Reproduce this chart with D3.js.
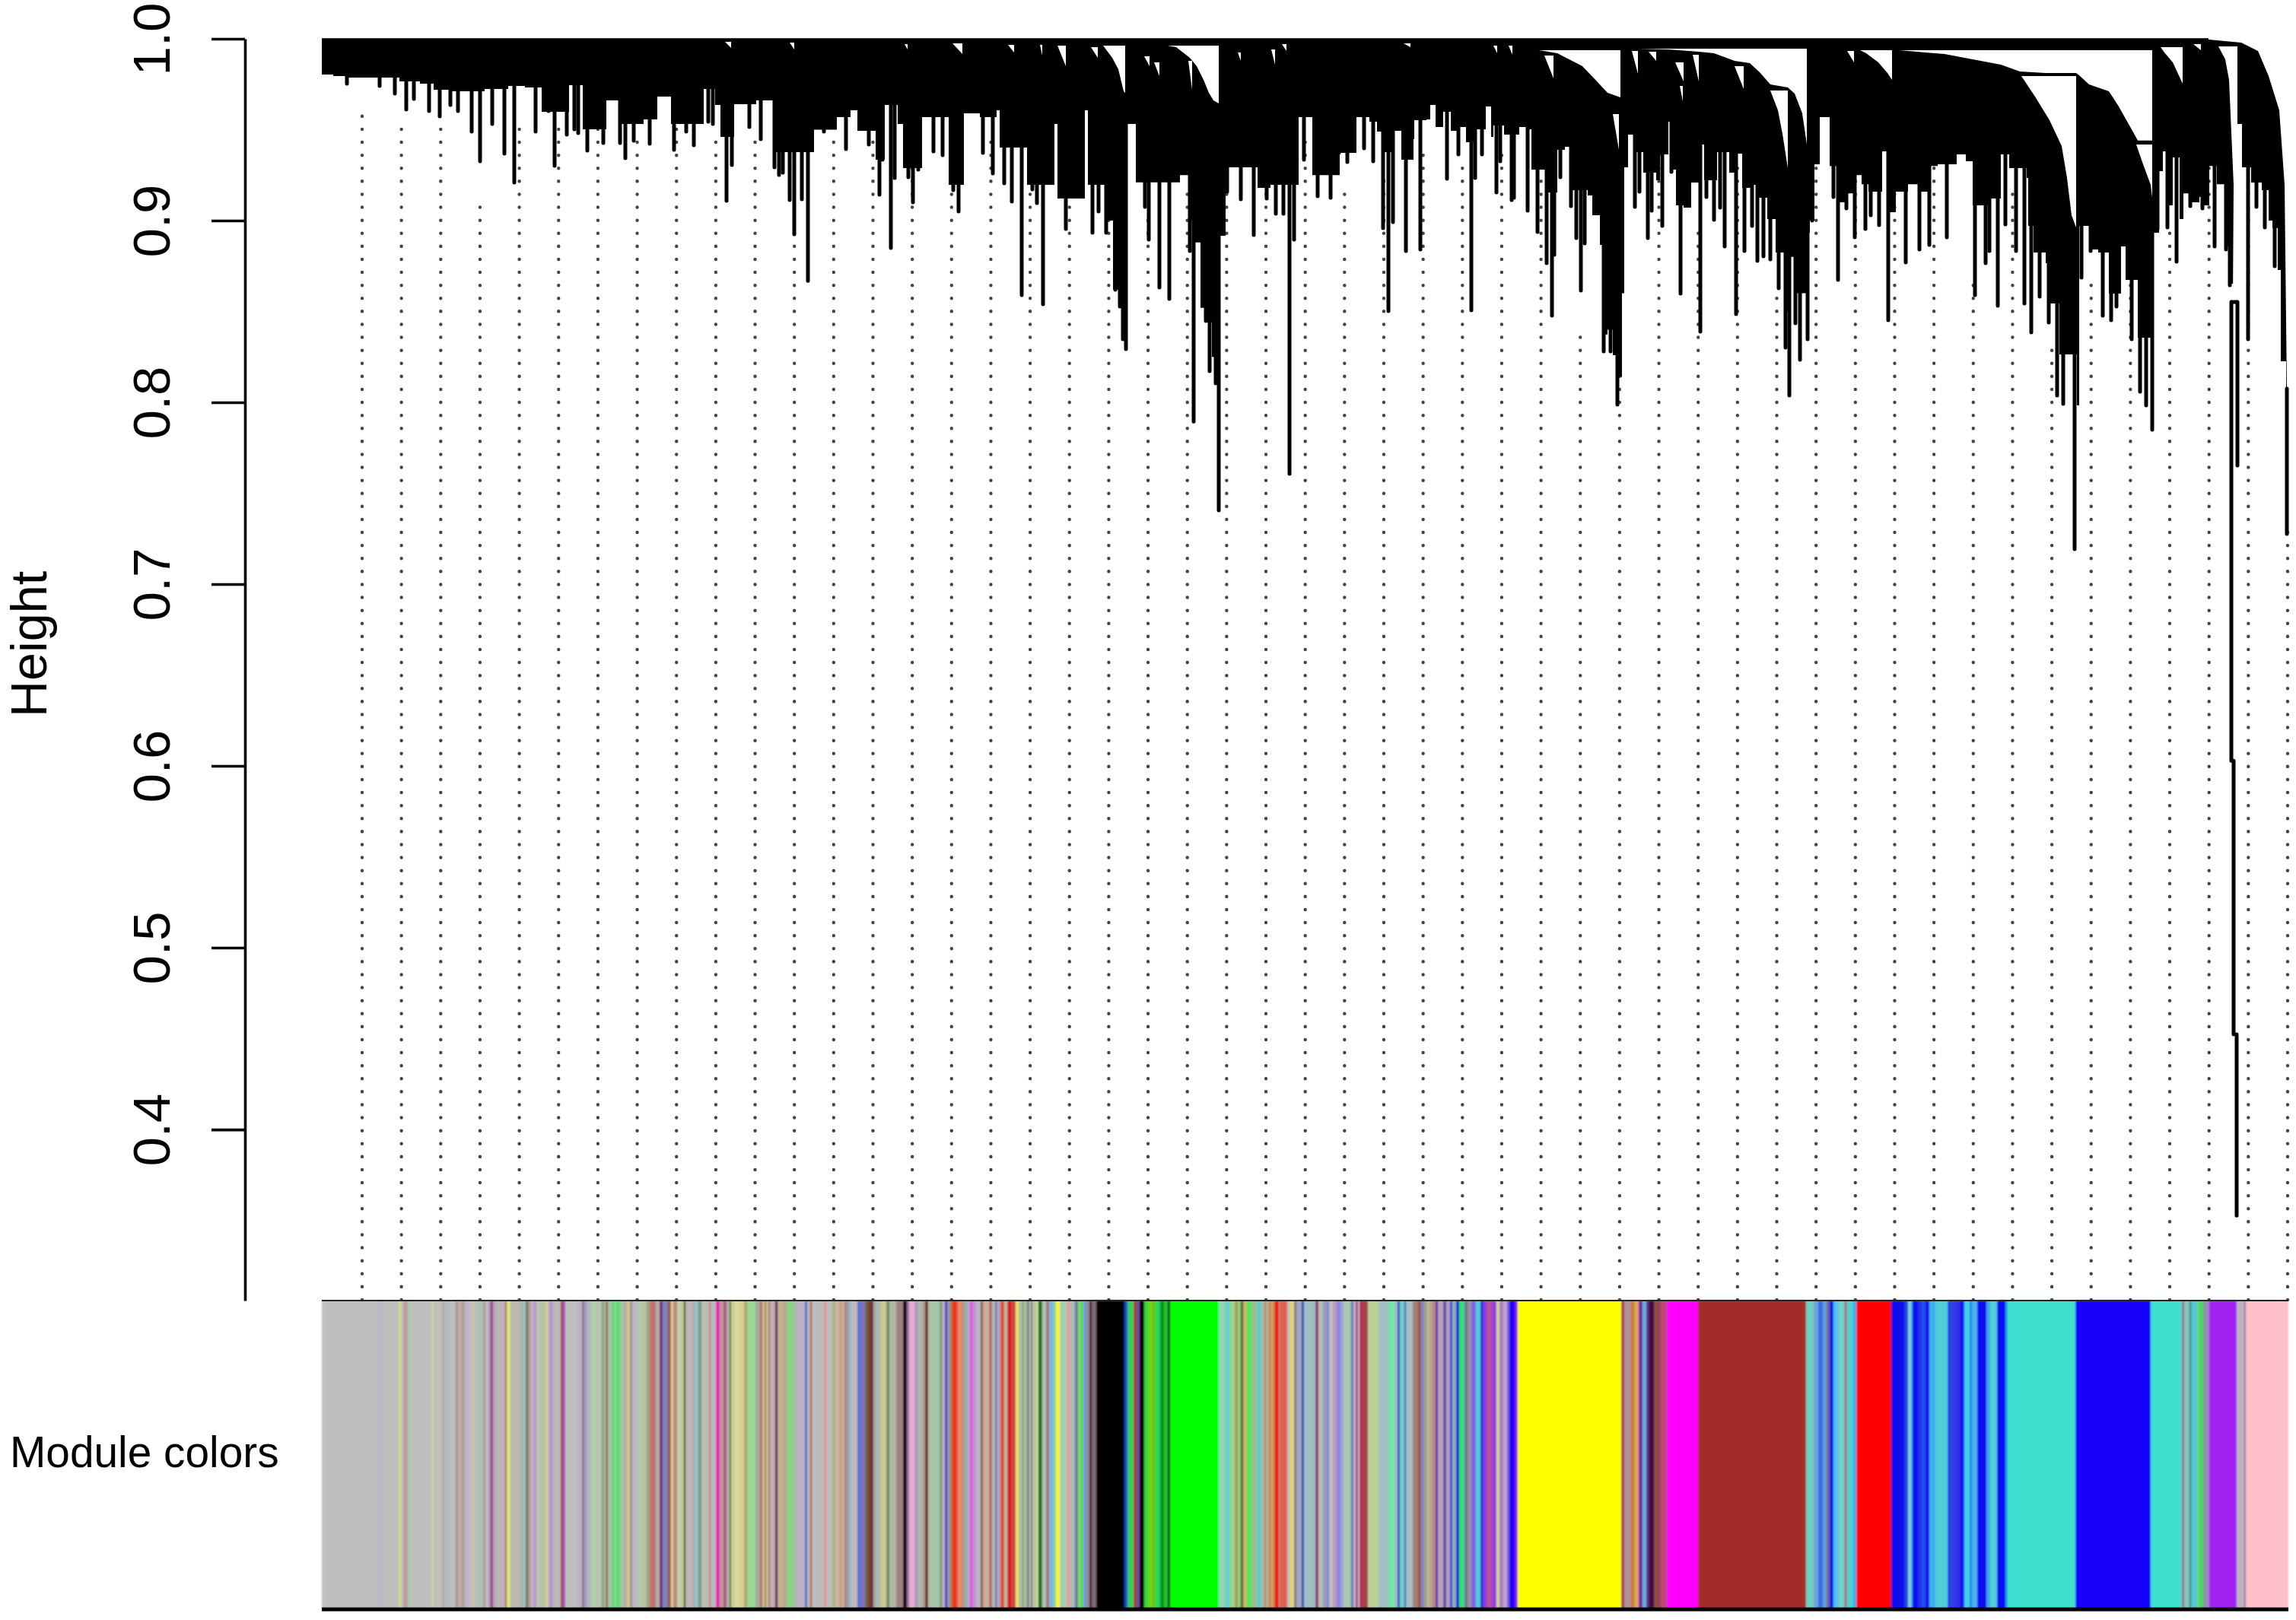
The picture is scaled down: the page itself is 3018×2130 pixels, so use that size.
<!DOCTYPE html>
<meta charset="utf-8">
<style>
    body { margin: 0; background: white; }
    text { font-family: "Liberation Sans", sans-serif; fill: black; }
</style>
<svg class="chart" width="3018" height="2130">
    <defs>
        <filter id="soft"><feGaussianBlur stdDeviation="0.7"></feGaussianBlur></filter>
        <filter id="softer"><feGaussianBlur stdDeviation="1"></feGaussianBlur></filter>
    </defs>
</svg>
<script src="https://d3js.org/d3.v7.min.js"></script>
<script>
    // leaf rank goes 0..2585 along the dendrogram, height is the usual 1-TOM style height
    const leafCount = 2585;
    const heightTicks = [1.0, 0.9, 0.8, 0.7, 0.6, 0.5, 0.4];
    const yLabel = "Height";
    const barLabel = "Module colors";

    // lower edge of the solid black part of the tree [rank, height]
    const canopyFloor = [
        [0,.9803],[15,.9795],[35,.9787],[80,.9787],[102,.9766],[129,.9753],[147,.9720],[169,.9711],[187,.9711],[214,.9724],
        [245,.9741],[267,.9732],[289,.9598],[307,.9598],[325,.9745],[343,.9502],[374,.9661],[390,.9531],[412,.9531],[423,.9556],[441,.9682],
        [459,.9531],[495,.9531],[502,.9724],[517,.9636],[524,.9460],[542,.9640],[553,.9640],[571,.9661],[593,.9377],[624,.9377],[647,.9500],[677,.9569],
        [695,.9607],[704,.9494],[722,.9494],[728,.9335],[740,.9636],[757,.9531],[764,.9289],[784,.9289],[789,.9569],[811,.9569],[824,.9197],[842,.9197],[844,.9590],[865,.9569],
        [887,.9607],[891,.9402],[914,.9402],[927,.9197],[945,.9197],[963,.9531],[967,.9121],[985,.9121],[1003,.9607],[1007,.9197],[1023,.9197],[1030,.9000],[1040,.8620],[1049,.8527],[1053,.8347],[1058,.9531],[1070,.9210],[1105,.9210],
        [1128,.9250],[1141,.9000],[1146,.8880],[1155,.8520],[1162,.8440],[1170,.8250],[1175,.8105],[1181,.8916],[1188,.9515],[1190,.9293],[1217,.9293],[1230,.9180],[1247,.9197],[1280,.9197],[1284,.9569],[1302,.9250],[1329,.9250],[1338,.9372],
        [1360,.9569],[1377,.9544],[1387,.9490],[1394,.9377],[1410,.9494],[1419,.9335],[1435,.9448],[1436,.9552],[1452,.9556],[1457,.9636],
        [1464,.9515],[1474,.9598],[1484,.9494],[1492,.9515],[1504,.9431],[1514,.9502],[1530,.9628],[1537,.9460],[1540,.9523],[1554,.9473],
        [1574,.9515],[1584,.9502],[1590,.9280],[1610,.9155],[1624,.9389],[1634,.9406],[1640,.9167],[1664,.9138],[1670,.9029],[1680,.8866],
        [1685,.8374],[1690,.8400],[1697,.8260],[1703,.8140],[1709,.8600],[1712,.9293],[1717,.9473],[1724,.9377],[1737,.9264],[1754,.9222],[1759,.9364],[1770,.9544],[1775,.9280],[1780,.9084],
        [1790,.9071],[1800,.9209],[1814,.9418],[1817,.9222],[1834,.9377],[1850,.9264],[1857,.9368],[1867,.9180],[1880,.9197],[1887,.9126],
        [1900,.9008],[1911,.8824],[1924,.8500],[1930,.8800],[1937,.8600],[1945,.8600],[1952,.8933],[1956,.9000],[1962,.9310],[1969,.9569],[1982,.9300],[1991,.9100],
        [2003,.9150],[2014,.9250],[2024,.9200],[2033,.9159],[2051,.9381],[2060,.9046],[2069,.9159],[2085,.9200],[2101,.9159],[2115,.9300],
        [2124,.9310],[2140,.9310],[2149,.9364],[2161,.9326],[2170,.9084],[2193,.9121],[2207,.9364],[2218,.9289],[2241,.9234],[2243,.8971],
        [2250,.8824],[2266,.8766],[2271,.8544],[2284,.8264],[2307,.7983],[2310,.8971],[2323,.8841],[2335,.8824],[2349,.8598],[2365,.8858],
        [2371,.8674],[2387,.8356],[2406,.8264],[2408,.8933],[2415,.9272],[2420,.9381],[2424,.9084],[2433,.9347],[2442,.9008],[2447,.9150],
        [2456,.9100],[2468,.9130],[2474,.9084],[2481,.9300],[2491,.9200],[2502,.8858],[2509,.8653],[2518,.9531],[2524,.9293],[2536,.9209],[2550,.9167],
        [2559,.9000],[2564,.8959],[2571,.8728],[2575,.8226],[2582,.8075],[2585,.8075]
    ];

    // branches that hang below the solid part [rank, lowest height]
    const branchTips = [
        [33,.9753],[76,.9741],[96,.9699],[111,.9611],[121,.9669],[141,.9603],[155,.9573],[169,.9636],[179,.9603],[197,.9490],
        [208,.9326],[224,.9531],[240,.9368],[253,.9209],[281,.9490],[298,.9603],[306,.9301],[322,.9473],[332,.9502],[337,.9481],
        [349,.9385],[370,.9427],[392,.9427],[399,.9343],[410,.9439],[431,.9423],[463,.9389],[479,.9490],[489,.9414],[508,.9544],
        [514,.9531],[532,.9109],[539,.9305],[562,.9515],[577,.9448],[595,.9293],[601,.9251],[606,.9264],[615,.9113],[621,.8925],
        [631,.9117],[639,.8669],[649,.9523],[660,.9490],[689,.9393],[719,.9418],[733,.9142],[737,.9335],[748,.8849],[753,.9234],
        [771,.9239],[777,.9100],[784,.9280],[804,.9381],[816,.9360],[830,.9167],[837,.9050],[869,.9372],[882,.9259],[897,.9205],
        [907,.9105],[920,.8590],[934,.9172],[940,.9096],[948,.8540],[958,.9226],[978,.8954],[993,.9335],[1013,.8933],[1021,.9050],
        [1031,.8933],[1043,.8619],[1049,.8527],[1053,.8347],[1057,.8293],[1075,.9234],[1082,.9075],[1087,.8895],[1101,.8632],[1114,.8569],
        [1141,.8833],[1146,.7895],[1162,.8448],[1167,.8172],[1175,.8105],[1179,.7406],[1190,.9159],[1208,.9117],[1225,.8921],[1233,.9326],
        [1242,.9121],[1254,.9038],[1264,.9038],[1272,.7607],[1278,.8895],[1291,.9335],[1309,.9134],[1326,.9126],[1337,.9372],[1348,.9322],
        [1370,.9398],[1382,.9326],[1395,.8958],[1402,.8502],[1408,.8992],[1425,.8833],[1444,.8841],[1479,.9230],[1494,.9364],[1511,.8506],
        [1516,.9234],[1525,.9364],[1544,.9155],[1549,.9326],[1564,.9113],[1567,.9126],[1585,.9054],[1598,.8937],[1610,.8766],[1617,.8477],
        [1620,.8812],[1628,.9239],[1642,.9080],[1649,.8904],[1655,.8615],[1660,.8875],[1685,.8280],[1694,.8280],[1703,.7988],[1726,.9075],
        [1732,.9159],[1743,.8904],[1748,.9054],[1762,.8971],[1774,.9268],[1786,.8598],[1812,.8389],[1820,.9130],[1830,.9004],[1838,.9071],
        [1844,.8858],[1859,.8485],[1870,.8833],[1880,.8971],[1887,.8778],[1895,.8803],[1904,.8787],[1915,.8628],[1924,.8301],[1929,.8038],
        [1937,.8435],[1943,.8234],[1953,.8347],[1959,.9000],[1987,.9130],[1993,.8674],[2004,.9067],[2015,.8908],[2029,.8954],[2036,.9029],
        [2047,.8975],[2059,.8452],[2082,.8770],[2100,.8841],[2113,.8866],[2136,.8908],[2173,.8590],[2187,.8766],[2192,.8833],[2203,.8531],
        [2213,.8979],[2227,.8833],[2238,.8544],[2247,.8385],[2258,.8582],[2270,.8439],[2281,.8038],[2289,.7992],[2304,.7193],[2313,.8686],
        [2325,.8833],[2341,.8477],[2352,.8452],[2359,.8527],[2379,.8347],[2390,.8059],[2398,.7983],[2406,.7849],[2413,.8954],[2426,.8962],
        [2438,.8774],[2456,.9080],[2472,.9067],[2488,.8858],[2503,.8841],[2508,.8644],[2532,.8347],[2543,.9075],[2554,.8962],[2567,.8749]
    ];

    // white openings between the clusters, each one outlined in [rank, height]
    const canopyGaps = [
        [[530,.9983],[538,.9983],[538,.9950]],
        [[615,.9979],[621,.9979],[621,.9941]],
        [[766,.9971],[770,.9971],[770,.9941]],
        [[829,.9975],[842,.9975],[842,.9916]],
        [[902,.9967],[910,.9967],[910,.9925]],
        [[944,.9967],[947,.9967],[947,.9908]],
        [[967,.9962],[978,.9962],[978,.9849]],
        [[1011,.9954],[1020,.9954],[1020,.9895]],
        [[1027,.9962],[1056,.9962],[1056,.9703],[1054,.9711],[1047,.9833],[1039,.9895]],
        [[1081,.9904],[1088,.9904],[1088,.9849]],
        [[1094,.9870],[1101,.9870],[1101,.9795]],
        [[1112,.9962],[1179,.9962],[1179,.9644],[1172,.9661],[1166,.9703],[1159,.9774],[1150,.9849],[1141,.9895],[1123,.9954]],
        [[1139,.9879],[1144,.9879],[1144,.9720]],
        [[1204,.9925],[1208,.9925],[1208,.9879]],
        [[1248,.9941],[1253,.9941],[1253,.9858]],
        [[1262,.9971],[1268,.9971],[1268,.9933]],
        [[1422,.9975],[1431,.9975],[1431,.9954]],
        [[1540,.9962],[1545,.9962],[1545,.9921]],
        [[1560,.9962],[1565,.9962],[1565,.9912]],
        [[1600,.9937],[1707,.9937],[1707,.9678],[1690,.9703],[1677,.9762],[1657,.9849],[1624,.9921]],
        [[1607,.9908],[1619,.9908],[1619,.9782]],
        [[1697,.9586],[1705,.9586],[1705,.9389]],
        [[1722,.9933],[1730,.9933],[1730,.9808]],
        [[1744,.9929],[1754,.9929],[1754,.9879]],
        [[1730,.9946],[1952,.9946],[1952,.9418],[1946,.9590],[1936,.9699],[1927,.9732],[1904,.9749],[1890,.9816],[1877,.9866],[1857,.9879],[1830,.9921],[1810,.9929],[1770,.9941]],
        [[1779,.9870],[1790,.9870],[1790,.9766]],
        [[1785,.9741],[1789,.9741],[1789,.9657]],
        [[1802,.9912],[1810,.9912],[1810,.9766]],
        [[1857,.9849],[1869,.9849],[1869,.9724]],
        [[1904,.9715],[1927,.9715],[1927,.9289],[1920,.9477],[1914,.9607]],
        [[2005,.9933],[2014,.9933],[2014,.9870]],
        [[2022,.9937],[2064,.9937],[2064,.9774],[2058,.9812],[2046,.9870],[2030,.9921]],
        [[2074,.9937],[2406,.9937],[2406,.9440],[2387,.9440],[2381,.9486],[2362,.9628],[2349,.9711],[2323,.9749],[2310,.9799],[2306,.9812],[2266,.9812],[2232,.9820],[2207,.9858],[2170,.9887],[2133,.9916]],
        [[2234,.9795],[2306,.9795],[2306,.8962],[2300,.9029],[2294,.9234],[2287,.9410],[2271,.9552],[2252,.9682]],
        [[2385,.9418],[2406,.9418],[2406,.9126],[2404,.9197],[2394,.9310]],
        [[2417,.9954],[2446,.9954],[2446,.9753],[2433,.9870],[2422,.9925]],
        [[2460,.9971],[2470,.9971],[2470,.9937]],
        [[2493,.9958],[2518,.9958],[2518,.8552],[2512,.8552],[2513,.9197],[2507,.9774],[2502,.9887]],
        [[2480,.9996],[2523,.9979],[2545,.9933],[2559,.9795],[2573,.9607],[2580,.9197],[2583,.8075],[2585,.8075],[2585,1.001],[2480,1.001]]
    ];

    // the few long single stems at the far right [rank, top height, bottom height]
    const longStems = [
        [2510,.8552,.6029],[2513,.6029,.4523],[2517,.4523,.3527],[2518,.8552,.7653],[2583,.8075,.7276]
    ];
    const stemLinks = [[2510,2518,.8552]];

    // where each of the 50 dotted guides stops, left to right
    const guideTops = [
        .9640,.9569,.9573,.9138,.9573,.9573,.9573,.9502,.9573,.9431,
        .9502,.9573,.9431,.9494,.9356,.9494,.9494,.9494,.9289,.9494,
        .9008,.9213,.9356,.9213,.9431,.9213,.9222,.9427,.9356,.9427,
        .9285,.8427,.8636,.9431,.9000,.9356,.8636,.9439,.9418,.9289,
        .9494,.8711,.9213,.8301,.8644,.8787,.8933,.9569,.9494,.7285
    ];

    // module colour strip: each run lasts until the next start
    const moduleRuns = [
        [0,"#bebebe"],[73,"#c0b8c4"],[80,"#bebebe"],[101,"#d6d888"],[105,"#bdbdbd"],[107,"#c09aa8"],[113,"#a8cca8"],[117,"#bebebe"],
        [144,"#d0cfa0"],[147,"#bebebe"],[152,"#ccc8a0"],[154,"#bebebe"],[159,"#a8a8a8"],[161,"#c0b4b8"],[165,"#a0c4b8"],[168,"#bebebe"],
        [176,"#7f9a80"],[178,"#c8a0a8"],[182,"#bebebe"],[183,"#b0a090"],[188,"#b8b8c8"],[192,"#c0b8d0"],[197,"#d0c890"],[200,"#bebebe"],
        [205,"#a8c4b8"],[212,"#b09898"],[215,"#bebebe"],[220,"#b070c0"],[223,"#883838"],[225,"#b8a8b8"],[230,"#b8b8b8"],[235,"#c8b0b8"],
        [241,"#708070"],[243,"#e4e080"],[248,"#b8b8a8"],[252,"#c0b8b0"],[261,"#a0b8a8"],[265,"#a8c4c0"],[268,"#687868"],[271,"#b89898"],
        [275,"#bebebe"],[278,"#c090d0"],[282,"#bcc4b0"],[288,"#b8c0a8"],[294,"#d0d090"],[298,"#b898d0"],[304,"#bdb8b8"],[314,"#a04858"],
        [317,"#a858b8"],[320,"#bebebe"],[336,"#b8b0c8"],[339,"#c0b0c8"],[342,"#887888"],[345,"#a8a0c8"],[349,"#b8b8c0"],[355,"#a0d8a0"],
        [358,"#bcc4b0"],[368,"#70a878"],[371,"#c0c0b0"],[373,"#907850"],[376,"#a8c0a8"],[381,"#60d880"],[385,"#88d898"],[387,"#60d870"],
        [392,"#a0c8a0"],[397,"#c0a8a0"],[401,"#d0c890"],[405,"#909890"],[408,"#c0b8c0"],[417,"#a0d898"],[420,"#b8c0a8"],[427,"#98a880"],
        [431,"#c87068"],[437,"#a87878"],[439,"#b8a8a8"],[444,"#703070"],[448,"#7888c8"],[454,"#986060"],[459,"#d8d090"],[462,"#c08878"],
        [467,"#c0d0b0"],[472,"#b8d088"],[476,"#101010"],[478,"#c0b8b0"],[488,"#b898d0"],[490,"#90c8c0"],[495,"#789888"],[499,"#b8c0b0"],
        [509,"#c08878"],[511,"#b8b8c0"],[518,"#e828b0"],[523,"#b89898"],[526,"#c09898"],[528,"#b85088"],[532,"#a8b8a0"],[536,"#686860"],
        [538,"#d0d090"],[543,"#d8d8a0"],[549,"#d8d090"],[555,"#b0a878"],[559,"#98d890"],[570,"#a8a8a0"],[576,"#a87868"],[579,"#d0c090"],
        [582,"#a87868"],[584,"#c8c890"],[587,"#a06080"],[589,"#c8b0b0"],[592,"#c8a8a8"],[596,"#402060"],[599,"#c0a8a8"],[602,"#c8b878"],
        [606,"#c0a0a0"],[611,"#80d880"],[619,"#b0b8b0"],[625,"#b8b8b8"],[629,"#c8a8d0"],[633,"#b8b8b8"],[635,"#5870c8"],[638,"#c0b8b8"],
        [642,"#a84838"],[644,"#bcbcbc"],[660,"#e09090"],[663,"#bcbcbc"],[671,"#a8b880"],[675,"#c8b8a8"],[680,"#d0a070"],[684,"#b8b8b8"],
        [687,"#c07868"],[690,"#90a8b8"],[694,"#b8b8c8"],[700,"#c8b8a8"],[704,"#4878e0"],[708,"#8070c0"],[714,"#687830"],[716,"#804848"],
        [720,"#703838"],[725,"#a0b0a0"],[729,"#b0b8b8"],[735,"#d0c890"],[742,"#708868"],[746,"#b0b8a0"],[755,"#a08080"],[764,"#101018"],
        [769,"#a070a0"],[772,"#e0b0d0"],[779,"#b898c0"],[784,"#a0c0b0"],[789,"#c09898"],[793,"#604030"],[797,"#b0c0a8"],[802,"#a0c8a8"],
        [812,"#909890"],[816,"#c0b8c0"],[819,"#3838c0"],[822,"#a090b8"],[826,"#b08030"],[829,"#f03018"],[834,"#d06050"],[836,"#f08868"],
        [841,"#c08888"],[844,"#90b0b0"],[849,"#b8b8b8"],[851,"#e060e0"],[856,"#c090d0"],[860,"#b8b8c0"],[866,"#806060"],[869,"#d0a890"],
        [874,"#c0b8a8"],[877,"#b07070"],[881,"#b0c0a8"],[885,"#7858c0"],[887,"#a8a8c8"],[892,"#e84828"],[897,"#a8c0b0"],[901,"#e81818"],
        [906,"#c84848"],[912,"#f0e060"],[916,"#b0c0a8"],[921,"#608868"],[922,"#a0c0a0"],[927,"#808080"],[930,"#c0c8c0"],[932,"#707070"],
        [934,"#b8c8a8"],[939,"#c0e088"],[942,"#103010"],[944,"#308030"],[947,"#a8c8b0"],[952,"#a87070"],[956,"#a8c0b0"],[957,"#60b8f0"],
        [961,"#90d0a0"],[965,"#f8f820"],[970,"#a0d0b0"],[979,"#e0a0a0"],[984,"#a8c0b8"],[990,"#6878a8"],[994,"#80e060"],[997,"#50e048"],
        [1001,"#8090e8"],[1005,"#909090"],[1009,"#401830"],[1012,"#806878"],[1018,"#000000"],[1055,"#1848c8"],[1059,"#38d058"],[1067,"#a04030"],
        [1071,"#7048a0"],[1075,"#000000"],[1081,"#40d040"],[1086,"#70d808"],[1091,"#60c820"],[1097,"#18d860"],[1102,"#089018"],[1107,"#20c030"],
        [1112,"#102020"],[1115,"#00ff00"],[1179,"#80e0c0"],[1182,"#a8d0a0"],[1186,"#70d0d0"],[1194,"#90e060"],[1198,"#b0c0a0"],[1201,"#a07840"],
        [1203,"#88d068"],[1208,"#505050"],[1211,"#d0b060"],[1215,"#60e060"],[1223,"#a8b890"],[1229,"#58d0c8"],[1235,"#b0b8a0"],[1239,"#c07858"],
        [1241,"#a0c0a0"],[1244,"#d08060"],[1248,"#a0c070"],[1250,"#e87038"],[1253,"#f01808"],[1258,"#a8a0a0"],[1259,"#e06050"],[1269,"#c0c0c0"],
        [1273,"#e8d860"],[1278,"#8070a8"],[1281,"#a0a8c0"],[1288,"#2840c8"],[1291,"#a0c0c0"],[1306,"#903878"],[1310,"#b0c0b0"],[1316,"#a098b8"],
        [1321,"#7090d8"],[1324,"#c0c0c0"],[1329,"#c098c0"],[1334,"#8888e0"],[1339,"#a0a0d8"],[1343,"#a8c8b0"],[1353,"#6070b0"],[1356,"#c0b8d0"],
        [1359,"#b03878"],[1362,"#c0c0c0"],[1364,"#b03060"],[1369,"#a84040"],[1375,"#b8d098"],[1389,"#a0c0c0"],[1403,"#60f0a0"],[1409,"#a0c0c0"],
        [1414,"#4040c8"],[1417,"#70d0c0"],[1423,"#2838e0"],[1425,"#a8c0c0"],[1434,"#a08078"],[1441,"#a05838"],[1445,"#7888d0"],[1449,"#a0a080"],
        [1453,"#d0c090"],[1455,"#b0a8a0"],[1459,"#c08878"],[1464,"#3838c0"],[1467,"#c0a0c0"],[1474,"#6050a0"],[1478,"#b0a0c0"],[1483,"#4040d0"],
        [1486,"#90b0c0"],[1491,"#2020d0"],[1495,"#30e070"],[1502,"#7070a8"],[1506,"#a09090"],[1511,"#8060f0"],[1517,"#50d0d0"],[1523,"#2020e0"],
        [1526,"#8040e0"],[1531,"#c050a0"],[1538,"#9040e0"],[1544,"#d8d090"],[1548,"#a080c0"],[1553,"#c8a0c8"],[1558,"#7060e0"],[1561,"#2000ff"],
        [1568,"#8020f0"],[1572,"#ffff00"],[1708,"#a03858"],[1712,"#b09090"],[1721,"#c87830"],[1725,"#e0a060"],[1731,"#7828a0"],[1736,"#60b0e0"],
        [1741,"#602878"],[1745,"#401040"],[1751,"#904848"],[1760,"#c04878"],[1768,"#ff00ff"],[1809,"#a52a2a"],[1951,"#70d0c0"],[1961,"#70a0d8"],
        [1967,"#3870e0"],[1973,"#60a0e0"],[1978,"#706888"],[1982,"#1818f0"],[1987,"#50c0f0"],[1993,"#70d0d0"],[2001,"#a08080"],[2005,"#50d0d0"],
        [2013,"#40a8f0"],[2017,"#ff0000"],[2063,"#1010f0"],[2080,"#2040e8"],[2085,"#80d0c0"],[2089,"#20a0f0"],[2091,"#1010f0"],[2098,"#2030e8"],
        [2103,"#2050f0"],[2108,"#1818f0"],[2113,"#40b0f0"],[2121,"#50d0d8"],[2137,"#3040e8"],[2147,"#3030f0"],[2153,"#1818f0"],[2159,"#40d0e8"],
        [2166,"#2080f0"],[2169,"#50b0f0"],[2176,"#1010f0"],[2188,"#40a0f0"],[2193,"#50d0d8"],[2202,"#1010f0"],[2213,"#20a0f0"],[2216,"#40e0d0"],
        [2305,"#1400fa"],[2404,"#40e0d0"],[2445,"#a06878"],[2448,"#80c8b8"],[2455,"#506888"],[2457,"#50c8d0"],[2465,"#70d090"],[2468,"#30e040"],
        [2472,"#80a090"],[2476,"#a080c0"],[2481,"#a020f0"],[2517,"#c0b0c0"],[2527,"#a070a8"],[2529,"#ffc0cb"]
    ];

    const svg = d3.select(".chart");

    const x = d3.scaleLinear().domain([0, leafCount]).range([423, 3008]);
    const y = d3.scaleLinear().domain([1, 0.3059]).range([51, 1710]);

    const barTop = 1710, barBottom = 2116;

    // dotted guides go under the tree
    const guideX = d3.scaleLinear().domain([0, guideTops.length - 1]).range([53, 2584]);
    svg.append("g").selectAll("line")
        .data(guideTops)
        .join("line")
        .attr("x1", (d, i) => x(guideX(i)))
        .attr("x2", (d, i) => x(guideX(i)))
        .attr("y1", y.range()[1] - 1)
        .attr("y2", d => y(d))
        .attr("stroke", "#444")
        .attr("stroke-width", 4.4)
        .attr("stroke-linecap", "round")
        .attr("stroke-dasharray", "0.1 17");

    const tree = svg.append("g").attr("filter", "url(#soft)");

    // solid part of the tree
    const canopy = d3.area()
        .curve(d3.curveStepAfter)
        .x(d => x(d[0]))
        .y0(y(1.0003))
        .y1(d => y(d[1]));

    tree.append("path")
        .datum(canopyFloor)
        .attr("d", canopy)
        .attr("fill", "black");

    tree.append("g").selectAll("line")
        .data(branchTips)
        .join("line")
        .attr("x1", d => x(d[0]))
        .attr("x2", d => x(d[0]))
        .attr("y1", y(0.998))
        .attr("y2", d => y(d[1]))
        .attr("stroke", "black")
        .attr("stroke-width", 5)
        .attr("stroke-linecap", "round");

    const gapLine = d3.line()
        .curve(d3.curveLinearClosed)
        .x(d => x(d[0]))
        .y(d => y(d[1]));

    tree.append("g").selectAll("path")
        .data(canopyGaps)
        .join("path")
        .attr("d", gapLine)
        .attr("fill", "white");

    tree.append("g").selectAll("line")
        .data(longStems)
        .join("line")
        .attr("x1", d => x(d[0]))
        .attr("x2", d => x(d[0]))
        .attr("y1", d => y(d[1]))
        .attr("y2", d => y(d[2]))
        .attr("stroke", "black")
        .attr("stroke-width", 5)
        .attr("stroke-linecap", "round");

    tree.append("g").selectAll("line")
        .data(stemLinks)
        .join("line")
        .attr("x1", d => x(d[0]))
        .attr("x2", d => x(d[1]))
        .attr("y1", d => y(d[2]))
        .attr("y2", d => y(d[2]))
        .attr("stroke", "black")
        .attr("stroke-width", 5);

    // colour strip
    svg.append("g")
        .attr("filter", "url(#softer)")
        .selectAll("rect")
        .data(moduleRuns)
        .join("rect")
        .attr("x", d => x(d[0]))
        .attr("width", (d, i) => x(i < moduleRuns.length - 1 ? moduleRuns[i + 1][0] : leafCount) - x(d[0]))
        .attr("y", barTop)
        .attr("height", barBottom - barTop)
        .attr("fill", d => d[1]);

    svg.append("line")
        .attr("x1", x(0)).attr("x2", x(leafCount))
        .attr("y1", barTop).attr("y2", barTop)
        .attr("stroke", "#222").attr("stroke-width", 2);

    svg.append("line")
        .attr("x1", x(0)).attr("x2", x(leafCount))
        .attr("y1", barBottom).attr("y2", barBottom)
        .attr("stroke", "black").attr("stroke-width", 5);

    // height axis
    const axis = d3.axisLeft(y)
        .tickValues(heightTicks)
        .tickSize(44)
        .tickSizeOuter(0)
        .tickFormat(d3.format(".1f"));

    const axisG = svg.append("g")
        .attr("transform", "translate(322,0)")
        .call(axis);

    axisG.selectAll("path, line")
        .attr("stroke", "black")
        .attr("stroke-width", 3.6);

    axisG.selectAll("text")
        .attr("font-size", 69)
        .attr("font-family", "Liberation Sans")
        .attr("text-anchor", "middle")
        .attr("x", 0)
        .attr("dy", 0)
        .attr("transform", "translate(-99,0) rotate(-90)");

    svg.append("text")
        .attr("transform", "translate(61,847) rotate(-90)")
        .attr("text-anchor", "middle")
        .attr("font-size", 66.5)
        .text(yLabel);

    svg.append("text")
        .attr("x", 13)
        .attr("y", 1929)
        .attr("font-size", 56.8)
        .text(barLabel);
</script>
